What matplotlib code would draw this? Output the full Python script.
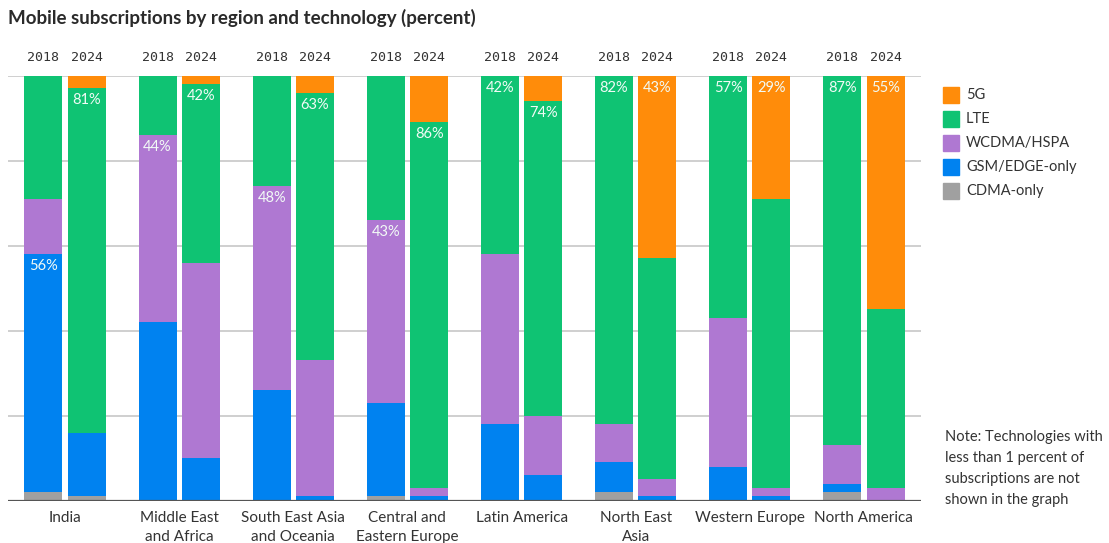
import matplotlib
matplotlib.use("Agg")
import matplotlib.pyplot as plt
import numpy as np

plt.rcParams['font.family'] = ['Lato', 'DejaVu Sans']

regions = ["India", "Middle East\nand Africa", "South East Asia\nand Oceania",
           "Central and\nEastern Europe", "Latin America", "North East\nAsia",
           "Western Europe", "North America"]
years = ["2018", "2024"]
technologies = ["CDMA-only", "GSM/EDGE-only", "WCDMA/HSPA", "LTE", "5G"]
colors = {"CDMA-only": "#A0A0A0", "GSM/EDGE-only": "#0082F0",
          "WCDMA/HSPA": "#AF78D2", "LTE": "#0FC373", "5G": "#FF8C0A"}

cdma_2018 = [2, 0, 0, 1, 0, 2, 0, 2]
cdma_2024 = [1, 0, 0, 0, 0, 0, 0, 0]
gsm_2018 = [56, 42, 26, 22, 18, 7, 8, 2]
gsm_2024 = [15, 10, 1, 1, 6, 1, 1, 0]
wcdma_2018 = [13, 44, 48, 43, 40, 9, 35, 9]
wcdma_2024 = [0, 46, 32, 2, 14, 4, 2, 3]
lte_2018 = [29, 14, 26, 34, 42, 82, 57, 87]
lte_2024 = [81, 42, 63, 86, 74, 52, 68, 42]
g5_2018 = [0, 0, 0, 0, 0, 0, 0, 0]
g5_2024 = [3, 2, 4, 11, 6, 43, 29, 55]

# which segment carries the percentage label in each bar
labeled_2018 = ["GSM/EDGE-only", "WCDMA/HSPA", "WCDMA/HSPA", "WCDMA/HSPA",
                "LTE", "LTE", "LTE", "LTE"]
labeled_2024 = ["LTE", "LTE", "LTE", "LTE", "LTE", "5G", "5G", "5G"]

data = {
    "2018": {"CDMA-only": cdma_2018, "GSM/EDGE-only": gsm_2018,
             "WCDMA/HSPA": wcdma_2018, "LTE": lte_2018, "5G": g5_2018},
    "2024": {"CDMA-only": cdma_2024, "GSM/EDGE-only": gsm_2024,
             "WCDMA/HSPA": wcdma_2024, "LTE": lte_2024, "5G": g5_2024},
}
labeled = {"2018": labeled_2018, "2024": labeled_2024}

fig = plt.figure(figsize=(11.09, 5.43), dpi=100)
ax = fig.add_axes([8/1109, 1 - 500.7/543, (921 - 8)/1109, (500.7 - 75.7)/543])

x = np.arange(len(regions))
offsets = {"2018": -0.19, "2024": 0.19}
width = 0.333

for yr in years:
    bottoms = np.zeros(len(regions))
    tops = {}
    for tech in technologies:
        vals = np.array(data[yr][tech], dtype=float)
        ax.bar(x + offsets[yr], vals, width, bottom=bottoms, color=colors[tech],
               linewidth=0, zorder=2)
        tops[tech] = bottoms + vals
        bottoms = bottoms + vals
    for i in range(len(regions)):
        t = labeled[yr][i]
        ax.annotate(f"{data[yr][t][i]}%", (x[i] + offsets[yr], tops[t][i]),
                    xytext=(0, -12), textcoords="offset pixels",
                    ha="center", va="center", color="#f2fbf6", fontsize=10.5,
                    zorder=3)
        ax.annotate(yr, (x[i] + offsets[yr], 100), xytext=(0, 18),
                    textcoords="offset pixels", ha="center", va="center",
                    fontsize=9.5, family="DejaVu Sans Mono", color="#333333",
                    annotation_clip=False)

for g in [20, 40, 60, 80, 100]:
    ax.axhline(g, color="#cccccc", linewidth=1.3, zorder=1)
ax.axhline(0, color="#555555", linewidth=1.6, zorder=4)

ax.set_xlim(-0.5, 7.5)
ax.set_ylim(0, 100)
for s in ax.spines.values():
    s.set_visible(False)
ax.set_yticks([])
ax.set_xticks([])

for i, r in enumerate(regions):
    ax.annotate(r, (x[i], 0), xytext=(0, -10), textcoords="offset pixels",
                ha="center", va="top", fontsize=11, color="#333333",
                linespacing=1.5, annotation_clip=False)

fig.text(8/1109, 1 - 18/543, "Mobile subscriptions by region and technology (percent)",
         ha="left", va="center", fontsize=13.5, fontweight="bold", color="#2a2a2a")

# legend
leg_items = ["5G", "LTE", "WCDMA/HSPA", "GSM/EDGE-only", "CDMA-only"]
for j, tech in enumerate(leg_items):
    yc = 95 + 24 * j
    fig.patches.append(plt.Rectangle((943/1109, 1 - (yc + 8)/543), 16/1109, 16/543,
                                     transform=fig.transFigure, color=colors[tech]))
    fig.text(966/1109, 1 - yc/543, tech, ha="left", va="center",
             fontsize=10.5, color="#333333")

fig.text(945/1109, 1 - 430/543,
         "Note: Technologies with\nless than 1 percent of\nsubscriptions are not\nshown in the graph",
         ha="left", va="top", fontsize=10.5, color="#333333", linespacing=1.65)

fig.savefig("out.png", dpi=100)
